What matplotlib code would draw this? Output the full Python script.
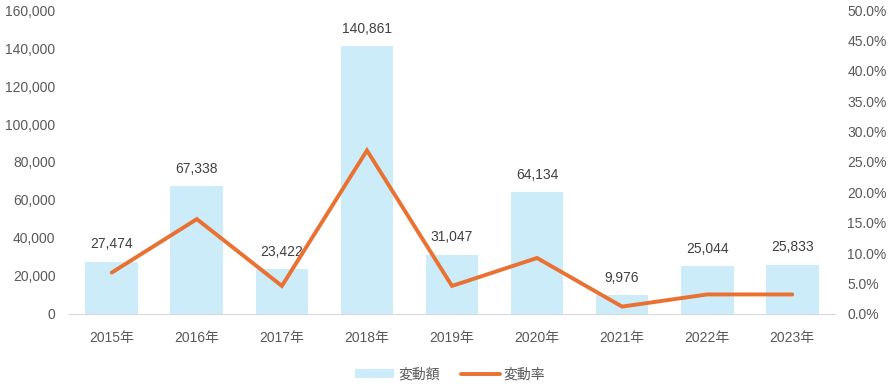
import matplotlib
matplotlib.use('Agg')
import matplotlib.pyplot as plt
from matplotlib.ticker import FuncFormatter

plt.rcParams['font.family'] = ['Liberation Sans', 'Noto Sans CJK JP']

years = ['2015年', '2016年', '2017年', '2018年', '2019年', '2020年', '2021年', '2022年', '2023年']
amount = [27474, 67338, 23422, 140861, 31047, 64134, 9976, 25044, 25833]
rate = [6.8, 15.6, 4.6, 26.9, 4.6, 9.2, 1.2, 3.2, 3.2]

bar_color = '#CCECF9'
line_color = '#E97132'
text_color = '#595959'

fig = plt.figure(figsize=(8.88, 3.88), dpi=100)
ax = fig.add_axes([0.078, 0.191, 0.862, 0.783])
ax2 = ax.twinx()

x = list(range(len(years)))
bars = ax.bar(x, amount, width=0.62, color=bar_color, label='変動額', zorder=1)
for xi, v in zip(x, amount):
    ax.text(xi, v + 5500, f'{v:,}', ha='center', va='bottom', fontsize=10, color='#404040')

ln, = ax2.plot(x, rate, color=line_color, linewidth=2.8, solid_capstyle='round',
               solid_joinstyle='miter', label='変動率')

ax.set_xlim(-0.5, len(years) - 0.5)
ax.set_ylim(0, 160000)
ax.set_yticks(range(0, 160001, 20000))
ax.yaxis.set_major_formatter(FuncFormatter(lambda v, p: f'{int(v):,}'))
ax2.set_ylim(0, 50)
ax2.set_yticks([i * 5 for i in range(11)])
ax2.yaxis.set_major_formatter(FuncFormatter(lambda v, p: f'{v:.1f}%'))

ax.set_xticks(x)
ax.set_xticklabels(years)

for a in (ax, ax2):
    for s in ('top', 'left', 'right', 'bottom'):
        a.spines[s].set_visible(False)
    a.tick_params(length=0, labelsize=10, colors=text_color)
ax.spines['bottom'].set_visible(True)
ax.spines['bottom'].set_color('#D9D9D9')
ax.tick_params(axis='y', pad=10)
ax.tick_params(axis='x', pad=12)
ax2.tick_params(axis='y', pad=9)

ax2.set_zorder(ax.get_zorder() + 1)
ax2.patch.set_visible(False)

fig.legend([bars, ln], ['変動額', '変動率'], loc='center', bbox_to_anchor=(0.507, 0.035),
           ncol=2, frameon=False, fontsize=10, labelcolor=text_color,
           handlelength=2.8, handletextpad=0.3, columnspacing=1.5)

fig.savefig('out.png', dpi=100)
